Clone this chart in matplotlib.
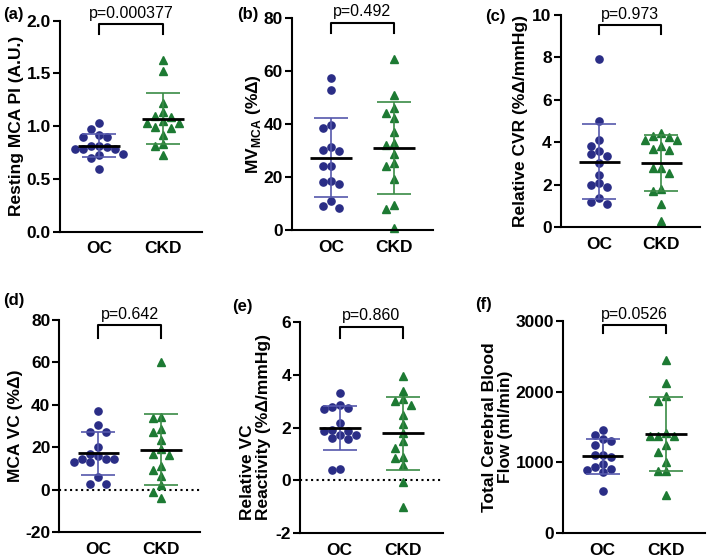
import numpy as np
import matplotlib
matplotlib.use("Agg")
import matplotlib.pyplot as plt
import matplotlib.transforms as mtransforms

plt.rcParams['font.family'] = ['Liberation Sans', 'DejaVu Sans']
plt.rcParams['mathtext.fontset'] = 'custom'
plt.rcParams['mathtext.rm'] = 'Liberation Sans'
plt.rcParams['mathtext.bf'] = 'Liberation Sans:bold'

groups = ["OC", "CKD"]

# (a) resting MCA pulsatility index
oc_pi = [1.03, 0.97, 0.92, 0.90, 0.90, 0.81, 0.81, 0.80, 0.78, 0.78, 0.78, 0.74, 0.73, 0.70, 0.59]
ckd_pi = [1.63, 1.52, 1.22, 1.13, 1.10, 1.09, 1.05, 1.03, 1.03, 0.99, 0.98, 0.92, 0.83, 0.81, 0.73]
# (b) MCA mean velocity response
oc_mv = [57.5, 52.8, 39.8, 38.5, 29.9, 30.4, 31.3, 24.2, 24.1, 18.2, 17.2, 18.4, 10.9, 8.3, 8.9]
ckd_mv = [64.5, 51.2, 46.1, 44.2, 42.5, 37.0, 32.0, 32.7, 28.9, 24.2, 25.3, 19.4, 9.3, 8.1, 0.8]
# (c) relative CVR
oc_cvr = [7.95, 5.0, 4.1, 3.85, 3.6, 3.45, 3.35, 3.05, 2.47, 2.1, 2.0, 1.88, 1.4, 1.18, 1.1]
ckd_cvr = [4.45, 4.3, 4.25, 4.12, 4.1, 3.85, 3.7, 3.65, 2.8, 2.8, 2.55, 1.8, 1.7, 1.1, 0.3]
# (d) MCA vascular conductance
oc_vc = [37.3, 30.5, 27.4, 27.4, 20.3, 16.9, 15.9, 14.7, 14.7, 14.7, 13.1, 13.1, 6.2, 2.7, 2.7]
ckd_vc = [60.3, 34.4, 34.0, 28.6, 27.4, 23.5, 19.1, 16.7, 16.4, 11.2, 9.3, 6.6, 2.3, -1.0, -4.0]
# (e) relative VC reactivity
oc_rvc = [3.31, 2.85, 2.77, 2.75, 2.69, 2.16, 1.90, 1.88, 1.88, 1.72, 1.72, 1.61, 1.56, 0.44, 0.39]
ckd_rvc = [3.96, 3.39, 3.08, 3.01, 2.85, 2.47, 2.13, 1.78, 1.49, 1.21, 0.87, 0.83, 0.58, -0.05, -0.99]
# (f) total cerebral blood flow
oc_cbf = [1463, 1393, 1332, 1299, 1248, 1111, 1111, 1073, 980, 932, 910, 896, 862, 594]
ckd_cbf = [2440, 2125, 1932, 1866, 1417, 1380, 1380, 1375, 1248, 1153, 1013, 886, 876, 543]

p_values = ["p=0.000377", "p=0.492", "p=0.973", "p=0.642", "p=0.860", "p=0.0526"]
ylabels = ["Resting MCA PI (A.U.)",
           r"MV$_{\mathbf{MCA}}$ (%Δ)",
           "Relative CVR (%Δ/mmHg)",
           "MCA VC (%Δ)",
           "Relative VC\nReactivity (%Δ/mmHg)",
           "Total Cerebral Blood\nFlow (ml/min)"]

W, H = 709, 560
OC_COLOR = "#2A2D86"
CKD_COLOR = "#1D7A33"
OC_ERR = "#5558AC"
CKD_ERR = "#3A8B46"

# layout (pixels): left, right, top, bottom of each axes
panels = [
    dict(data=(oc_pi, ckd_pi), box=(60, 202, 20.7, 231.7), ylim=(0, 2), yticks=np.arange(0, 2.01, 0.5),
         fmt="{:.1f}", br=(0.984, 0.936), lab="(a)", labxy=(3, 14), ylc=-0.25, ma="center", zero=False),
    dict(data=(oc_mv, ckd_mv), box=(291.7, 433, 18.3, 230), ylim=(0, 80), yticks=np.arange(0, 81, 20),
         fmt="{:.0f}", br=(0.979, 0.932), lab="(b)", labxy=(237, 14.5), ylc=-0.205, ma="center", zero=False),
    dict(data=(oc_cvr, ckd_cvr), box=(560.7, 700, 15, 227.3), ylim=(0, 10), yticks=np.arange(0, 11, 2),
         fmt="{:.0f}", br=(0.953, 0.909), lab="(c)", labxy=(485, 16), ylc=-0.235, ma="center", zero=False),
    dict(data=(oc_vc, ckd_vc), box=(59.3, 200, 320, 532.3), ylim=(-20, 80), yticks=np.arange(-20, 81, 20),
         fmt="{:.0f}", br=(0.976, 0.914), lab="(d)", labxy=(3, 301), ylc=-0.26, ma="center", zero=True),
    dict(data=(oc_rvc, ckd_rvc), box=(300, 443, 321.7, 533.3), ylim=(-2, 6), yticks=np.arange(-2, 7, 2),
         fmt="{:.0f}", br=(0.976, 0.921), lab="(e)", labxy=(232, 306), ylc=-0.2, ma="left", zero=True),
    dict(data=(oc_cbf, ckd_cbf), box=(563.3, 705, 320.7, 533.3), ylim=(0, 3000), yticks=np.arange(0, 3001, 1000),
         fmt="{:.0f}", br=(0.979, 0.94), lab="(f)", labxy=(475, 305), ylc=-0.355, ma="center", zero=False),
]


def swarm_offsets(ax, vals, xc, step_px=8.0, diam_px=7.5):
    # spread points sideways so markers don't sit on top of each other
    ys = ax.transData.transform(np.column_stack([np.full(len(vals), xc), vals]))[:, 1]
    order = np.argsort(-np.asarray(vals, dtype=float))
    cands = [0]
    for n in range(1, 12):
        cands += [-n, n]
    placed = []
    offs = np.zeros(len(vals))
    for i in order:
        for c in cands:
            dx = c * step_px
            if all(np.hypot(dx - px, ys[i] - py) >= diam_px for px, py in placed):
                break
        placed.append((dx, ys[i]))
        offs[i] = dx
    px_per_unit = ax.bbox.width / (ax.get_xlim()[1] - ax.get_xlim()[0])
    return offs / px_per_unit


fig = plt.figure(figsize=(W / 100, H / 100), dpi=100)

for i, pnl in enumerate(panels):
    l, r, t, b = pnl["box"]
    ax = fig.add_axes([l / W, (H - b) / H, (r - l) / W, (b - t) / H])
    ax.set_xlim(-0.62, 1.62)
    ax.set_ylim(*pnl["ylim"])

    for j, vals in enumerate(pnl["data"]):
        vals = np.asarray(vals, dtype=float)
        xs = j + swarm_offsets(ax, vals, j)
        if j == 0:
            ax.plot(xs, vals, "o", ms=5.2, color=OC_COLOR, mec=OC_COLOR, zorder=2, clip_on=False)
            ecol = OC_ERR
        else:
            ax.plot(xs, vals, "^", ms=5.6, color=CKD_COLOR, mec=CKD_COLOR, zorder=2, clip_on=False)
            ecol = CKD_ERR
        m = vals.mean()
        sd = vals.std(ddof=1)
        ax.errorbar(j, m, yerr=sd, fmt="none", ecolor=ecol, elinewidth=1.2, capsize=12, capthick=1.2, zorder=3)
        ax.hlines(m, j - 0.33, j + 0.33, color="black", lw=2, zorder=4)

    if pnl["zero"]:
        ax.axhline(0, color="black", ls=":", lw=1.5, zorder=1)

    # significance bracket
    trans = mtransforms.blended_transform_factory(ax.transData, ax.transAxes)
    top, leg = pnl["br"]
    ax.plot([0, 0, 1, 1], [leg, top, top, leg], color="black", lw=1.5, transform=trans, clip_on=False)
    ax.annotate(p_values[i], xy=(0.5, top), xycoords=trans, xytext=(0, 2.5), textcoords="offset points",
                ha="center", va="bottom", fontsize=11.5)

    ax.set_yticks(pnl["yticks"])
    ax.set_yticklabels([pnl["fmt"].format(v) for v in pnl["yticks"]], fontsize=12.5, fontweight="bold")
    ax.set_xticks([0, 1])
    ax.set_xticklabels(groups, fontsize=12.5, fontweight="bold")
    ax.tick_params(axis="x", length=0, pad=7)
    ax.tick_params(axis="y", length=5, width=1.5, pad=1.5)
    ax.spines["top"].set_visible(False)
    ax.spines["right"].set_visible(False)
    ax.spines["left"].set_linewidth(1.5)
    ax.spines["bottom"].set_linewidth(1.5)

    ax.set_ylabel(ylabels[i], fontsize=12.5, fontweight="bold", multialignment=pnl["ma"], linespacing=1.1)
    ax.yaxis.set_label_coords(pnl["ylc"], 0.5)

    lx, ly = pnl["labxy"]
    fig.text(lx / W, 1 - ly / H, pnl["lab"], fontsize=12, fontweight="bold", ha="left", va="center")

fig.savefig("out.png", dpi=100)
